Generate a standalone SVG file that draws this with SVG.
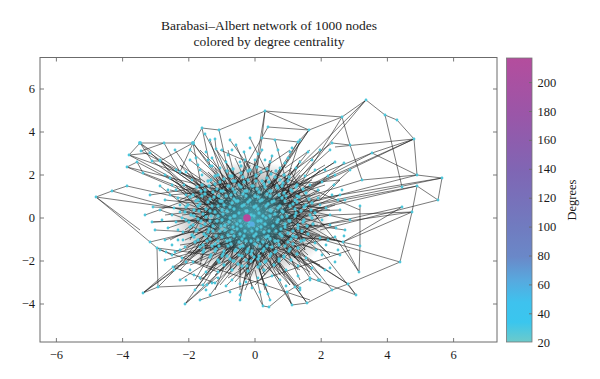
<svg xmlns="http://www.w3.org/2000/svg" width="600" height="379" viewBox="0 0 600 379">
<defs>
<style>
text{font-family:"Liberation Serif","DejaVu Serif",serif;fill:#1a1a1a}
.tl{font-size:12.5px}
.ttl{font-size:13.5px;text-anchor:middle}
.ax{fill:none;stroke:#6b6b6b;stroke-width:1}
.tk{stroke:#6b6b6b;stroke-width:0.9}
.ed{fill:none;stroke:#222222;stroke-width:0.75;stroke-opacity:0.8}
.nd{fill:none;stroke:#4ec6da;stroke-linecap:round;stroke-width:3.3}
.nds{fill:none;stroke:#4ec6da;stroke-linecap:round;stroke-width:2.8}
</style>
<linearGradient id="cb" x1="0" y1="0" x2="0" y2="1">
<stop offset="0" stop-color="#b44d9d"/>
<stop offset="0.2" stop-color="#9a56a8"/>
<stop offset="0.4" stop-color="#7f66b4"/>
<stop offset="0.6" stop-color="#707cc0"/>
<stop offset="0.7" stop-color="#6a88c8"/>
<stop offset="0.78" stop-color="#58a8de"/>
<stop offset="0.86" stop-color="#3ec2ee"/>
<stop offset="0.93" stop-color="#3ac6ee"/>
<stop offset="1" stop-color="#6ccaca"/>
</linearGradient>
<radialGradient id="blob" cx="0.5" cy="0.5" r="0.5">
<stop offset="0" stop-color="#4ec6da" stop-opacity="0.8"/>
<stop offset="0.6" stop-color="#4ec6da" stop-opacity="0.4"/>
<stop offset="1" stop-color="#4ec6da" stop-opacity="0"/>
</radialGradient>
<radialGradient id="dark" cx="0.5" cy="0.5" r="0.5">
<stop offset="0" stop-color="#111111" stop-opacity="0.42"/>
<stop offset="0.7" stop-color="#111111" stop-opacity="0.25"/>
<stop offset="1" stop-color="#111111" stop-opacity="0"/>
</radialGradient>
</defs>
<rect width="600" height="379" fill="#ffffff"/>
<g id="title">
<text class="ttl" x="269" y="30">Barabasi–Albert network of 1000 nodes</text>
<text class="ttl" x="269" y="46">colored by degree centrality</text>
</g>
<g id="connectors">
<ellipse cx="250" cy="220" rx="80" ry="60" fill="url(#dark)"/>
<path class="ed" d="M140 143L193 143M193 143L202 128M202 128L219 130M219 130L265 111M140 143L129 155M140 143L152 161M140 143L214 212M193 143L180 172M193 143L205 205M193 143L230 190M193 143L160 161M164 143L180 172M202 128L210 166M205 134L240 200M215 139L216 149M219 130L230 180M129 155L200 180M129 155L150 153M127 167L220 190M127 167L137 162M137 162L210 200M143 173L200 195M96 197L112 191M96 197L140 230M112 191L127 186M127 186L190 200M112 191L200 215M150 153L230 210M152 161L215 205M160 161L240 215M180 172L250 220M216 149L255 205M141 151L164 143M141 151L196 180M137 162L143 173M152 161L160 161"/>
<path class="ed" d="M265 111L342 117M265 111L309 130M342 117L309 130M342 117L366 100M366 100L385 115M385 115L397 120M397 120L414 139M414 139L417 175M385 115L402 187M414 139L335 147M414 139L290 195M342 117L350 145M350 145L362 180M372 153L280 190M309 130L298 142M298 142L270 190M265 111L262 138M262 138L255 180M268 127L235 185M342 117L300 185M366 100L290 190M309 130L262 200M268 127L309 130M332 143L260 195M335 162L275 200M344 163L285 210M262 138L298 142M332 143L350 145M372 153L417 175"/>
<path class="ed" d="M442 178L417 175M442 178L310 200M438 200L417 186M438 200L320 230M417 175L300 205M417 186L290 215M412 212L320 225M402 207L300 230M362 180L280 205M417 186L412 212M417 175L362 180M414 139L372 153M442 178L438 200"/>
<path class="ed" d="M412 212L400 262M400 262L348 284M412 212L343 242M359 272L335 237M348 284L356 295M356 295L310 278M332 290L307 303M332 290L348 284M307 303L292 305M292 305L287 292M263 306L269 307M263 306L255 270M269 307L287 292M287 292L295 287M295 287L310 278M310 278L290 250M343 242L300 230M360 246L310 235M402 207L343 242M343 242L359 272M360 246L359 272M360 246L360 206M335 237L280 250M348 284L310 260M307 303L275 260M292 305L262 255M263 306L240 262M356 295L320 250M332 290L300 250"/>
<path class="ed" d="M143 293L158 287M143 293L173 267M158 287L203 285M185 304L217 277M173 267L215 283M157 248L158 287M150 242L157 248M152 222L200 220M172 255L215 240M175 252L230 230M193 262L240 240M218 272L250 245M215 283L245 255M153 207L220 210M158 287L205 240M207 285L240 250M185 304L230 262M143 293L200 250M96 197L150 242M150 242L200 230M157 248L210 255M172 255L157 248M193 262L218 272M173 267L193 262"/>
<path class="ed" d="M247 218L140 143M247 218L193 143M247 218L265 111M247 218L309 130M247 218L414 139M247 218L442 178M247 218L412 212M247 218L400 262M247 218L348 284M247 218L307 303M247 218L185 304M247 218L143 293M247 218L96 197M247 218L127 167M247 218L216 149M247 218L372 153M247 218L335 162M247 218L298 142M247 218L203 285M247 218L343 242M247 218L292 305M247 218L129 155M247 218L417 186M247 218L152 222M247 218L173 267M247 218L366 100"/>
<path class="ed" d="M205 190L260 225M215 175L245 240M230 168L270 232M192 210L285 200M200 230L262 188M210 250L275 210M222 262L258 196M238 270L292 220M250 165L233 250M262 172L215 232M275 180L240 262M288 190L200 205M300 205L225 198M310 220L238 214M305 240L210 222M295 258L245 190M280 268L262 205M265 275L220 185M245 280L285 195M228 278L300 232M198 245L270 250M190 225L250 260M215 205L310 195M240 182L298 270M256 182L206 268M270 195L190 238M282 210L228 170M295 225L218 248M318 210L252 230M320 235L240 200M302 190L256 252M285 175L270 265M258 160L248 275M235 158L275 245M212 165L292 240M196 180L265 218M185 200L255 208M188 252L262 235M205 275L258 220M225 242L318 225M248 200L308 255M268 228L196 195M278 248L210 182M290 265L232 205M242 228L290 180M226 222L280 258M252 246L312 200M236 236L272 170M260 240L222 175M244 212L300 212M232 195L252 262M272 218L208 240M256 198L230 258M280 232L236 188M216 214L286 226M264 256L246 180M250 230L200 198M290 200L262 262M208 228L276 186M240 250L298 196"/>
<path class="ed" d="M170 178L240 230M165 200L260 210M168 228L250 200M182 258L270 225M200 278L260 215M226 286L280 230M252 288L235 200M280 280L220 220M312 268L240 210M328 240L230 230M326 208L220 200M322 182L230 215M300 162L240 240M272 156L250 250M244 152L270 240M212 158L260 240M186 172L270 230M176 222L300 215M318 190L210 250M340 210L200 215M336 228L215 190M308 152L230 250M236 145L280 250M190 160L290 240M195 290L265 200M268 294L230 190M320 280L250 200M350 220L240 195M345 200L220 240M330 150L240 230M350 170L260 250M160 186L240 250M165 240L290 200M240 295L270 190M300 288L230 200M185 247L300 180M315 243L200 190M200 170L300 250M245 160L230 270M280 168L250 275"/>
<path class="ed" d="M195 200L230 185M205 215L240 195M212 240L250 228M220 255L262 240M235 265L270 250M250 190L285 205M262 180L300 195M270 205L310 230M278 225L305 250M285 240L260 270M300 215L275 180M310 205L290 170M222 180L205 225M215 190L190 240M230 200L200 260M245 205L215 255M255 235L225 270M268 245L240 275M282 255L255 285M295 245L310 275M305 230L330 255M315 215L335 240M320 200L340 180M300 180L325 165M285 168L310 150M268 165L290 150M250 175L262 150M235 178L228 150M220 170L200 150M205 182L180 165M195 195L170 190M190 212L165 215M193 228L170 240M200 240L180 262M210 255L195 280M225 265L215 290M240 260L240 290M258 262L265 290M272 258L290 285M288 250L312 270M262 214L286 236M238 222L262 244M228 210L250 232M240 188L266 212M212 204L238 226M220 232L246 254M260 200L284 222M275 240L252 262M290 212L268 234M242 240L222 262M232 222L210 244M256 218L234 240M248 198L226 220M280 196L258 218M266 182L244 204M226 196L204 218M300 226L278 248M306 214L284 236M214 266L236 244M196 222L218 200M188 232L210 210M204 186L226 208M274 268L296 246M316 236L294 258M232 172L254 194M214 176L236 198M282 186L304 208M296 196L318 218M262 274L284 252M246 276L268 254M228 274L250 252"/>
<path class="ed" d="M160 160L215 230M175 150L240 245M190 150L275 230M210 140L250 260M230 140L290 225M250 138L300 240M275 140L305 250M300 140L260 260M320 150L230 250M335 175L215 235M340 195L200 255M345 230L205 210M340 255L190 215M325 270L200 190M300 290L210 180M270 300L225 170M240 300L270 160M210 295L300 175M180 280L320 190M165 260L330 215M155 230L335 240M160 210L320 265M165 175L300 270M180 165L290 285M150 195L250 180M145 215L270 170M170 195L340 180M160 250L310 300M200 300L350 250M220 150L360 210"/>
<path class="ed" d="M175 185L230 240M180 200L245 170M185 230L260 175M190 255L250 195M200 265L225 180M215 275L275 215M235 282L300 210M260 280L320 215M285 275L240 180M305 265L215 200M318 250L230 178M325 225L215 265M320 195L205 240M310 178L220 260M292 168L205 230M270 165L190 215M250 162L195 250M228 165L280 275M208 172L300 262M192 190L315 250M182 215L320 200M185 240L312 180M195 262L300 170M210 270L285 165M240 275L255 160M265 272L215 168M295 255L180 210M312 238L185 185M322 210L190 265M300 192L220 285M278 182L185 250M255 175L300 280M232 178L330 238M212 188L330 210M198 205L310 272M205 222L325 185M215 248L335 205M235 260L320 170M258 268L300 160M280 262L225 160M300 248L178 200M315 225L180 245M305 205L200 280M290 185L245 290M268 178L180 270M245 180L330 255M225 190L320 275M205 200L300 290"/>
</g>
<g id="nodes">
<ellipse cx="250" cy="219" rx="46" ry="38" fill="url(#blob)"/>
<path class="nd" d="M233 169h0M241 166h0M250 170h0M257 167h0M267 169h0M218 175h0M227 171h0M232 176h0M241 173h0M248 171h0M256 175h0M261 172h0M271 174h0M276 171h0M284 175h0M211 180h0M215 176h0M224 179h0M230 176h0M235 181h0M243 177h0M248 180h0M256 176h0M262 181h0M267 178h0M275 177h0M280 180h0M289 177h0M202 185h0M208 181h0M215 184h0M220 182h0M228 186h0M233 181h0M239 185h0M244 182h0M252 186h0M256 181h0M264 184h0M269 182h0M277 186h0M283 183h0M288 181h0M297 185h0M197 187h0M205 190h0M209 186h0M217 189h0M221 191h0M229 186h0M233 189h0M241 187h0M245 191h0M253 186h0M257 189h0M265 187h0M270 191h0M278 188h0M282 186h0M291 190h0M296 187h0M303 189h0M193 195h0M201 191h0M205 194h0M213 192h0M219 196h0M223 191h0M231 195h0M235 192h0M243 194h0M247 191h0M255 196h0M259 192h0M267 194h0M271 191h0M279 195h0M284 193h0M292 191h0M297 196h0M306 193h0M190 197h0M198 200h0M202 196h0M210 199h0M214 197h0M222 201h0M226 196h0M234 199h0M238 201h0M246 196h0M250 200h0M258 197h0M262 200h0M270 196h0M274 201h0M282 198h0M286 196h0M295 200h0M299 197h0M309 199h0M188 205h0M196 201h0M200 204h0M208 202h0M212 206h0M220 201h0M224 205h0M232 203h0M236 201h0M244 205h0M248 202h0M256 206h0M260 201h0M268 204h0M272 202h0M280 206h0M285 201h0M293 204h0M297 202h0M306 205h0M312 203h0M186 207h0M194 210h0M198 206h0M206 209h0M210 211h0M218 206h0M222 210h0M230 207h0M234 209h0M242 206h0M246 211h0M254 207h0M258 209h0M266 206h0M270 210h0M278 208h0M282 211h0M290 206h0M295 209h0M304 207h0M311 210h0M185 212h0M191 215h0M199 211h0M203 214h0M211 216h0M215 212h0M223 214h0M227 211h0M235 216h0M239 213h0M247 211h0M251 215h0M259 213h0M263 216h0M271 211h0M275 214h0M283 212h0M287 216h0M296 213h0M301 211h0M310 215h0M315 213h0M186 220h0M194 216h0M198 219h0M206 217h0M210 221h0M218 216h0M222 220h0M230 218h0M234 216h0M240 221h0M254 216h0M258 221h0M266 218h0M270 216h0M278 220h0M282 217h0M290 221h0M295 216h0M304 220h0M312 218h0M189 222h0M193 225h0M201 221h0M205 224h0M213 226h0M217 221h0M225 225h0M229 222h0M237 224h0M241 226h0M249 222h0M253 225h0M261 221h0M265 224h0M273 226h0M277 222h0M285 224h0M289 221h0M298 225h0M303 222h0M313 224h0M190 227h0M197 230h0M201 226h0M209 229h0M213 231h0M221 226h0M225 230h0M233 227h0M237 229h0M245 231h0M249 226h0M257 229h0M261 227h0M269 231h0M273 226h0M281 229h0M285 227h0M293 231h0M298 228h0M307 226h0M192 235h0M196 231h0M204 234h0M208 232h0M216 236h0M220 231h0M228 235h0M232 232h0M240 234h0M244 236h0M252 231h0M256 234h0M264 232h0M268 236h0M276 231h0M280 234h0M288 233h0M293 236h0M302 231h0M308 234h0M194 237h0M198 240h0M206 236h0M210 239h0M218 241h0M222 237h0M230 240h0M234 236h0M242 239h0M246 241h0M254 236h0M258 240h0M266 237h0M270 239h0M278 241h0M282 236h0M291 239h0M296 237h0M304 240h0M195 242h0M203 245h0M207 241h0M215 244h0M219 246h0M227 241h0M231 244h0M239 242h0M243 246h0M251 241h0M255 244h0M263 242h0M267 246h0M275 241h0M279 245h0M288 242h0M293 244h0M301 241h0M200 247h0M204 250h0M212 246h0M216 249h0M224 251h0M228 246h0M236 250h0M240 247h0M248 249h0M252 251h0M260 246h0M264 249h0M272 247h0M276 251h0M285 246h0M290 249h0M298 248h0M203 252h0M211 255h0M215 251h0M223 254h0M227 256h0M235 251h0M239 255h0M247 252h0M251 254h0M259 256h0M263 251h0M271 254h0M275 252h0M284 256h0M289 251h0M297 254h0M210 257h0M218 260h0M222 256h0M230 259h0M234 261h0M242 256h0M246 260h0M254 257h0M258 259h0M266 261h0M270 256h0M279 259h0M284 257h0M291 260h0M219 262h0M224 265h0M233 261h0M238 264h0M247 266h0M251 261h0M260 264h0M265 262h0M274 265h0M279 261h0M232 270h0M242 266h0M248 271h0M258 267h0M264 270h0"/>
<path class="nds" d="M170 178h0M176 190h0M165 200h0M172 215h0M168 228h0M178 240h0M182 258h0M190 270h0M200 278h0M212 283h0M226 286h0M240 284h0M252 288h0M266 285h0M280 280h0M298 276h0M312 268h0M322 255h0M328 240h0M330 225h0M326 208h0M332 195h0M322 182h0M315 170h0M300 162h0M288 158h0M272 156h0M258 154h0M244 152h0M228 155h0M212 158h0M198 165h0M186 172h0M180 205h0M176 222h0M183 232h0M318 190h0M340 210h0M336 228h0M342 190h0M325 170h0M308 152h0M292 148h0M278 150h0M236 145h0M222 150h0M206 152h0M190 160h0M184 185h0M160 186h0M165 240h0M195 290h0M240 295h0M268 294h0M300 288h0M320 280h0M335 262h0M350 220h0M345 200h0M330 150h0M350 170h0M318 280h0M200 170h0M185 247h0M245 160h0M265 160h0M280 168h0M315 243h0M182 218h0M220 168h0M175 150h0M190 150h0M210 140h0M230 140h0M250 138h0M275 140h0M300 140h0M320 150h0M335 175h0M340 195h0M345 230h0M340 255h0M325 270h0M300 290h0M270 300h0M240 300h0M210 295h0M180 280h0M165 260h0M155 230h0M160 210h0M165 175h0M150 195h0M145 215h0M170 195h0M160 250h0M200 300h0M160 160h0M172 185h0M178 198h0M174 208h0M178 230h0M172 245h0M180 250h0M186 262h0M194 275h0M206 272h0M218 278h0M232 280h0M246 282h0M258 278h0M272 276h0M286 270h0M298 266h0M306 258h0M316 250h0M320 238h0M322 220h0M320 205h0M318 198h0M310 185h0M305 176h0M296 168h0M285 163h0M270 162h0M255 160h0M240 162h0M226 162h0M212 166h0M202 175h0M192 180h0M186 195h0M180 212h0M183 240h0M326 245h0M330 215h0M338 200h0M334 185h0M328 176h0M312 160h0M290 152h0M262 150h0M250 148h0M232 150h0M208 160h0M196 158h0M176 170h0M168 190h0M162 220h0M166 252h0M174 270h0M186 280h0M206 290h0M230 292h0M260 292h0M286 286h0M310 280h0M330 268h0M338 250h0M344 236h0"/>
<path class="nds" d="M164 143h0M202 128h0M219 130h0M205 134h0M215 139h0M129 155h0M141 151h0M150 153h0M137 162h0M127 167h0M152 161h0M160 161h0M143 173h0M180 172h0M96 197h0M112 191h0M127 186h0M210 166h0M216 149h0M265 111h0M342 117h0M366 100h0M385 115h0M397 120h0M414 139h0M417 175h0M442 178h0M438 200h0M417 186h0M372 153h0M362 180h0M309 130h0M268 127h0M262 138h0M298 142h0M350 145h0M332 143h0M344 163h0M335 162h0M143 293h0M158 287h0M185 304h0M203 285h0M207 285h0M173 267h0M157 248h0M150 242h0M152 222h0M172 255h0M175 252h0M193 262h0M218 272h0M215 283h0M153 207h0M412 212h0M400 262h0M359 272h0M348 284h0M356 295h0M332 290h0M307 303h0M292 305h0M263 306h0M269 307h0M287 292h0M295 287h0M310 278h0M343 242h0M335 237h0M360 246h0M402 207h0M402 187h0M360 206h0"/>
<circle cx="140" cy="143" r="2" fill="#4ec6da"/>
<circle cx="193" cy="143" r="2" fill="#4ec6da"/>
<circle cx="252" cy="224" r="2.6" fill="#58aee2"/>
<circle id="hub" cx="247" cy="218" r="3.8" fill="#b8489c"/>
</g>
<g id="axes">
<rect class="ax" x="40" y="57.5" width="457" height="284.5"/>
<path class="tk" d="M56.4 342v-4M122.6 342v-4M188.8 342v-4M255 342v-4M321.2 342v-4M387.4 342v-4M453.6 342v-4M56.4 57.5v4M122.6 57.5v4M188.8 57.5v4M255 57.5v4M321.2 57.5v4M387.4 57.5v4M453.6 57.5v4M40 89h4M40 132h4M40 175h4M40 218h4M40 261h4M40 304h4M497 89h-4M497 132h-4M497 175h-4M497 218h-4M497 261h-4M497 304h-4"/>
<g class="tl" text-anchor="middle">
<text x="56.4" y="359">−6</text>
<text x="122.6" y="359">−4</text>
<text x="188.8" y="359">−2</text>
<text x="255" y="359">0</text>
<text x="321.2" y="359">2</text>
<text x="387.4" y="359">4</text>
<text x="453.6" y="359">6</text>
</g>
<g class="tl" text-anchor="end">
<text x="35" y="93">6</text>
<text x="35" y="136">4</text>
<text x="35" y="179">2</text>
<text x="35" y="222">0</text>
<text x="35" y="265">−2</text>
<text x="35" y="308">−4</text>
</g>
</g>
<g id="colorbar">
<rect x="506.5" y="58" width="25.5" height="284" fill="url(#cb)" stroke="#777" stroke-width="0.8"/>
<path class="tk" stroke="#555" d="M532 82.6h-3M532 111.5h-3M532 140.4h-3M532 169.3h-3M532 198.2h-3M532 227.1h-3M532 256h-3M532 284.9h-3M532 313.8h-3"/>
<g class="tl">
<text x="537.5" y="86.6">200</text>
<text x="537.5" y="115.5">180</text>
<text x="537.5" y="144.4">160</text>
<text x="537.5" y="173.3">140</text>
<text x="537.5" y="202.2">120</text>
<text x="537.5" y="231.1">100</text>
<text x="537.5" y="260">80</text>
<text x="537.5" y="288.9">60</text>
<text x="537.5" y="317.8">40</text>
<text x="537.5" y="346.7">20</text>
</g>
<text class="tl" x="0" y="0" text-anchor="middle" transform="translate(576 200) rotate(-90)">Degrees</text>
</g>
</svg>
